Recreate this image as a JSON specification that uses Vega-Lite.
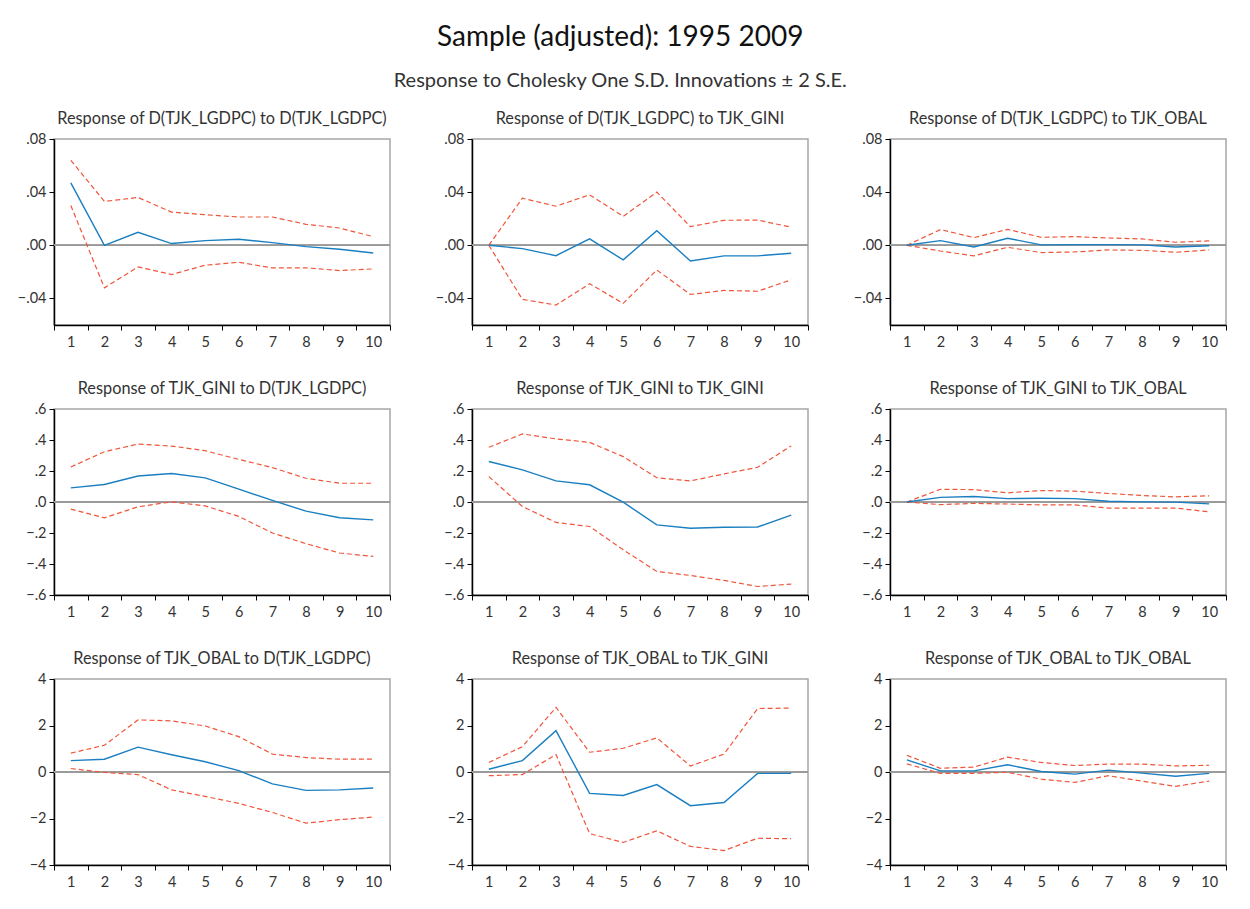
{
  "$schema": "https://vega.github.io/schema/vega-lite/v6.json",
  "background": "white",
  "padding": {"left": 13, "top": 23, "right": 10, "bottom": 10},
  "title": {
    "text": "Sample (adjusted): 1995 2009",
    "subtitle": "Response to Cholesky One S.D. Innovations ± 2 S.E.",
    "anchor": "middle",
    "font": "Lato",
    "fontSize": 28,
    "fontWeight": "normal",
    "color": "#111",
    "subtitleFont": "Lato",
    "subtitleFontSize": 20,
    "subtitleColor": "#333",
    "subtitlePadding": 19,
    "offset": 19
  },
  "datasets": {
    "irf": [
      {"p": 1, "h": 1, "r": 0.047, "lo": 0.030, "hi": 0.064},
      {"p": 1, "h": 2, "r": 0.000, "lo": -0.032, "hi": 0.033},
      {"p": 1, "h": 3, "r": 0.0098, "lo": -0.0163, "hi": 0.036},
      {"p": 1, "h": 4, "r": 0.0013, "lo": -0.022, "hi": 0.025},
      {"p": 1, "h": 5, "r": 0.0035, "lo": -0.015, "hi": 0.023},
      {"p": 1, "h": 6, "r": 0.0045, "lo": -0.0128, "hi": 0.0213},
      {"p": 1, "h": 7, "r": 0.002, "lo": -0.017, "hi": 0.0213},
      {"p": 1, "h": 8, "r": -0.001, "lo": -0.017, "hi": 0.0158},
      {"p": 1, "h": 9, "r": -0.003, "lo": -0.019, "hi": 0.013},
      {"p": 1, "h": 10, "r": -0.0058, "lo": -0.0178, "hi": 0.0065},
      {"p": 2, "h": 1, "r": 0, "lo": 0, "hi": 0},
      {"p": 2, "h": 2, "r": -0.0025, "lo": -0.0407, "hi": 0.0354},
      {"p": 2, "h": 3, "r": -0.0078, "lo": -0.045, "hi": 0.0294},
      {"p": 2, "h": 4, "r": 0.0048, "lo": -0.029, "hi": 0.038},
      {"p": 2, "h": 5, "r": -0.011, "lo": -0.0437, "hi": 0.0218},
      {"p": 2, "h": 6, "r": 0.011, "lo": -0.0186, "hi": 0.040},
      {"p": 2, "h": 7, "r": -0.0118, "lo": -0.037, "hi": 0.014},
      {"p": 2, "h": 8, "r": -0.008, "lo": -0.034, "hi": 0.0188},
      {"p": 2, "h": 9, "r": -0.008, "lo": -0.0346, "hi": 0.019},
      {"p": 2, "h": 10, "r": -0.006, "lo": -0.026, "hi": 0.0136},
      {"p": 3, "h": 1, "r": 0, "lo": 0, "hi": 0},
      {"p": 3, "h": 2, "r": 0.0035, "lo": -0.0043, "hi": 0.0118},
      {"p": 3, "h": 3, "r": -0.0013, "lo": -0.008, "hi": 0.0058},
      {"p": 3, "h": 4, "r": 0.0053, "lo": -0.0015, "hi": 0.012},
      {"p": 3, "h": 5, "r": 0.0003, "lo": -0.0055, "hi": 0.006},
      {"p": 3, "h": 6, "r": 0.0005, "lo": -0.005, "hi": 0.0065},
      {"p": 3, "h": 7, "r": 0.0005, "lo": -0.0035, "hi": 0.0055},
      {"p": 3, "h": 8, "r": 0.0003, "lo": -0.0038, "hi": 0.0048},
      {"p": 3, "h": 9, "r": -0.0013, "lo": -0.0053, "hi": 0.0023},
      {"p": 3, "h": 10, "r": -0.0003, "lo": -0.0035, "hi": 0.0033},
      {"p": 4, "h": 1, "r": 0.091, "lo": -0.046, "hi": 0.226},
      {"p": 4, "h": 2, "r": 0.113, "lo": -0.102, "hi": 0.324},
      {"p": 4, "h": 3, "r": 0.168, "lo": -0.031, "hi": 0.374},
      {"p": 4, "h": 4, "r": 0.184, "lo": 0.001, "hi": 0.361},
      {"p": 4, "h": 5, "r": 0.156, "lo": -0.025, "hi": 0.331},
      {"p": 4, "h": 6, "r": 0.083, "lo": -0.093, "hi": 0.275},
      {"p": 4, "h": 7, "r": 0.010, "lo": -0.200, "hi": 0.222},
      {"p": 4, "h": 8, "r": -0.059, "lo": -0.269, "hi": 0.153},
      {"p": 4, "h": 9, "r": -0.102, "lo": -0.329, "hi": 0.121},
      {"p": 4, "h": 10, "r": -0.115, "lo": -0.351, "hi": 0.121},
      {"p": 5, "h": 1, "r": 0.261, "lo": 0.164, "hi": 0.353},
      {"p": 5, "h": 2, "r": 0.207, "lo": -0.029, "hi": 0.439},
      {"p": 5, "h": 3, "r": 0.136, "lo": -0.132, "hi": 0.407},
      {"p": 5, "h": 4, "r": 0.111, "lo": -0.158, "hi": 0.385},
      {"p": 5, "h": 5, "r": -0.001, "lo": -0.308, "hi": 0.293},
      {"p": 5, "h": 6, "r": -0.148, "lo": -0.448, "hi": 0.157},
      {"p": 5, "h": 7, "r": -0.169, "lo": -0.474, "hi": 0.136},
      {"p": 5, "h": 8, "r": -0.163, "lo": -0.506, "hi": 0.181},
      {"p": 5, "h": 9, "r": -0.161, "lo": -0.545, "hi": 0.224},
      {"p": 5, "h": 10, "r": -0.085, "lo": -0.530, "hi": 0.362},
      {"p": 6, "h": 1, "r": 0, "lo": 0, "hi": 0},
      {"p": 6, "h": 2, "r": 0.030, "lo": -0.017, "hi": 0.082},
      {"p": 6, "h": 3, "r": 0.035, "lo": -0.009, "hi": 0.080},
      {"p": 6, "h": 4, "r": 0.022, "lo": -0.013, "hi": 0.059},
      {"p": 6, "h": 5, "r": 0.024, "lo": -0.019, "hi": 0.074},
      {"p": 6, "h": 6, "r": 0.022, "lo": -0.019, "hi": 0.070},
      {"p": 6, "h": 7, "r": 0.005, "lo": -0.039, "hi": 0.055},
      {"p": 6, "h": 8, "r": 0.001, "lo": -0.039, "hi": 0.042},
      {"p": 6, "h": 9, "r": -0.001, "lo": -0.039, "hi": 0.033},
      {"p": 6, "h": 10, "r": -0.012, "lo": -0.064, "hi": 0.040},
      {"p": 7, "h": 1, "r": 0.49, "lo": 0.15, "hi": 0.81},
      {"p": 7, "h": 2, "r": 0.55, "lo": -0.02, "hi": 1.15},
      {"p": 7, "h": 3, "r": 1.07, "lo": -0.11, "hi": 2.24},
      {"p": 7, "h": 4, "r": 0.74, "lo": -0.77, "hi": 2.20},
      {"p": 7, "h": 5, "r": 0.44, "lo": -1.05, "hi": 1.98},
      {"p": 7, "h": 6, "r": 0.06, "lo": -1.35, "hi": 1.52},
      {"p": 7, "h": 7, "r": -0.51, "lo": -1.74, "hi": 0.77},
      {"p": 7, "h": 8, "r": -0.79, "lo": -2.20, "hi": 0.62},
      {"p": 7, "h": 9, "r": -0.77, "lo": -2.05, "hi": 0.55},
      {"p": 7, "h": 10, "r": -0.69, "lo": -1.94, "hi": 0.55},
      {"p": 8, "h": 1, "r": 0.12, "lo": -0.16, "hi": 0.41},
      {"p": 8, "h": 2, "r": 0.49, "lo": -0.11, "hi": 1.09},
      {"p": 8, "h": 3, "r": 1.78, "lo": 0.75, "hi": 2.78},
      {"p": 8, "h": 4, "r": -0.92, "lo": -2.65, "hi": 0.85},
      {"p": 8, "h": 5, "r": -1.01, "lo": -3.03, "hi": 1.02},
      {"p": 8, "h": 6, "r": -0.54, "lo": -2.53, "hi": 1.47},
      {"p": 8, "h": 7, "r": -1.45, "lo": -3.20, "hi": 0.26},
      {"p": 8, "h": 8, "r": -1.31, "lo": -3.38, "hi": 0.77},
      {"p": 8, "h": 9, "r": -0.06, "lo": -2.85, "hi": 2.73},
      {"p": 8, "h": 10, "r": -0.06, "lo": -2.87, "hi": 2.75},
      {"p": 9, "h": 1, "r": 0.52, "lo": 0.35, "hi": 0.72},
      {"p": 9, "h": 2, "r": 0.05, "lo": -0.06, "hi": 0.16},
      {"p": 9, "h": 3, "r": 0.05, "lo": -0.06, "hi": 0.21},
      {"p": 9, "h": 4, "r": 0.31, "lo": -0.01, "hi": 0.64},
      {"p": 9, "h": 5, "r": 0.02, "lo": -0.31, "hi": 0.41},
      {"p": 9, "h": 6, "r": -0.09, "lo": -0.45, "hi": 0.28},
      {"p": 9, "h": 7, "r": 0.08, "lo": -0.16, "hi": 0.34},
      {"p": 9, "h": 8, "r": -0.05, "lo": -0.39, "hi": 0.34},
      {"p": 9, "h": 9, "r": -0.18, "lo": -0.62, "hi": 0.26},
      {"p": 9, "h": 10, "r": -0.06, "lo": -0.39, "hi": 0.29}
    ]
  },
  "data": {"name": "irf"},
  "spacing": 28,
  "vconcat": [
    {
      "spacing": 39,
      "hconcat": [
        {
          "title": "Response of D(TJK_LGDPC) to D(TJK_LGDPC)",
          "width": 336, "height": 186,
          "transform": [{"filter": "datum.p == 1"}],
          "layer": [
            {"mark": {"type": "rule", "color": "#9a9a9a", "strokeWidth": 1}, "encoding": {"y": {"datum": 0, "type": "quantitative", "scale": {"domain": [-0.06, 0.08], "nice": false, "zero": false}, "axis": {"values": [-0.04, 0, 0.04, 0.08], "labelOverlap": false, "labelExpr": "replace(format(datum.value, '.2f'), '0.', '.')"}}}},
            {"mark": {"type": "line", "color": "#f0553a", "strokeDash": [5, 3], "strokeWidth": 1.2}, "encoding": {"x": {"field": "h", "type": "ordinal", "scale": {"type": "band", "paddingInner": 0, "paddingOuter": 0}, "bandPosition": 0.5}, "y": {"field": "hi", "type": "quantitative", "axis": {"values": [-0.04, 0, 0.04, 0.08], "labelOverlap": false, "labelExpr": "replace(format(datum.value, '.2f'), '0.', '.')"}}}},
            {"mark": {"type": "line", "color": "#f0553a", "strokeDash": [5, 3], "strokeWidth": 1.2}, "encoding": {"x": {"field": "h", "type": "ordinal", "scale": {"type": "band", "paddingInner": 0, "paddingOuter": 0}, "bandPosition": 0.5}, "y": {"field": "lo", "type": "quantitative", "axis": {"values": [-0.04, 0, 0.04, 0.08], "labelOverlap": false, "labelExpr": "replace(format(datum.value, '.2f'), '0.', '.')"}}}},
            {"mark": {"type": "line", "color": "#1a7fc1", "strokeWidth": 1.4}, "encoding": {"x": {"field": "h", "type": "ordinal", "scale": {"type": "band", "paddingInner": 0, "paddingOuter": 0}, "bandPosition": 0.5}, "y": {"field": "r", "type": "quantitative", "axis": {"values": [-0.04, 0, 0.04, 0.08], "labelOverlap": false, "labelExpr": "replace(format(datum.value, '.2f'), '0.', '.')"}}}}
          ]
        },
        {
          "title": "Response of D(TJK_LGDPC) to TJK_GINI",
          "width": 336, "height": 186,
          "transform": [{"filter": "datum.p == 2"}],
          "layer": [
            {"mark": {"type": "rule", "color": "#9a9a9a", "strokeWidth": 1}, "encoding": {"y": {"datum": 0, "type": "quantitative", "scale": {"domain": [-0.06, 0.08], "nice": false, "zero": false}, "axis": {"values": [-0.04, 0, 0.04, 0.08], "labelOverlap": false, "labelExpr": "replace(format(datum.value, '.2f'), '0.', '.')"}}}},
            {"mark": {"type": "line", "color": "#f0553a", "strokeDash": [5, 3], "strokeWidth": 1.2}, "encoding": {"x": {"field": "h", "type": "ordinal", "scale": {"type": "band", "paddingInner": 0, "paddingOuter": 0}, "bandPosition": 0.5}, "y": {"field": "hi", "type": "quantitative", "axis": {"values": [-0.04, 0, 0.04, 0.08], "labelOverlap": false, "labelExpr": "replace(format(datum.value, '.2f'), '0.', '.')"}}}},
            {"mark": {"type": "line", "color": "#f0553a", "strokeDash": [5, 3], "strokeWidth": 1.2}, "encoding": {"x": {"field": "h", "type": "ordinal", "scale": {"type": "band", "paddingInner": 0, "paddingOuter": 0}, "bandPosition": 0.5}, "y": {"field": "lo", "type": "quantitative", "axis": {"values": [-0.04, 0, 0.04, 0.08], "labelOverlap": false, "labelExpr": "replace(format(datum.value, '.2f'), '0.', '.')"}}}},
            {"mark": {"type": "line", "color": "#1a7fc1", "strokeWidth": 1.4}, "encoding": {"x": {"field": "h", "type": "ordinal", "scale": {"type": "band", "paddingInner": 0, "paddingOuter": 0}, "bandPosition": 0.5}, "y": {"field": "r", "type": "quantitative", "axis": {"values": [-0.04, 0, 0.04, 0.08], "labelOverlap": false, "labelExpr": "replace(format(datum.value, '.2f'), '0.', '.')"}}}}
          ]
        },
        {
          "title": "Response of D(TJK_LGDPC) to TJK_OBAL",
          "width": 336, "height": 186,
          "transform": [{"filter": "datum.p == 3"}],
          "layer": [
            {"mark": {"type": "rule", "color": "#9a9a9a", "strokeWidth": 1}, "encoding": {"y": {"datum": 0, "type": "quantitative", "scale": {"domain": [-0.06, 0.08], "nice": false, "zero": false}, "axis": {"values": [-0.04, 0, 0.04, 0.08], "labelOverlap": false, "labelExpr": "replace(format(datum.value, '.2f'), '0.', '.')"}}}},
            {"mark": {"type": "line", "color": "#f0553a", "strokeDash": [5, 3], "strokeWidth": 1.2}, "encoding": {"x": {"field": "h", "type": "ordinal", "scale": {"type": "band", "paddingInner": 0, "paddingOuter": 0}, "bandPosition": 0.5}, "y": {"field": "hi", "type": "quantitative", "axis": {"values": [-0.04, 0, 0.04, 0.08], "labelOverlap": false, "labelExpr": "replace(format(datum.value, '.2f'), '0.', '.')"}}}},
            {"mark": {"type": "line", "color": "#f0553a", "strokeDash": [5, 3], "strokeWidth": 1.2}, "encoding": {"x": {"field": "h", "type": "ordinal", "scale": {"type": "band", "paddingInner": 0, "paddingOuter": 0}, "bandPosition": 0.5}, "y": {"field": "lo", "type": "quantitative", "axis": {"values": [-0.04, 0, 0.04, 0.08], "labelOverlap": false, "labelExpr": "replace(format(datum.value, '.2f'), '0.', '.')"}}}},
            {"mark": {"type": "line", "color": "#1a7fc1", "strokeWidth": 1.4}, "encoding": {"x": {"field": "h", "type": "ordinal", "scale": {"type": "band", "paddingInner": 0, "paddingOuter": 0}, "bandPosition": 0.5}, "y": {"field": "r", "type": "quantitative", "axis": {"values": [-0.04, 0, 0.04, 0.08], "labelOverlap": false, "labelExpr": "replace(format(datum.value, '.2f'), '0.', '.')"}}}}
          ]
        }
      ]
    },
    {
      "spacing": 39,
      "hconcat": [
        {
          "title": "Response of TJK_GINI to D(TJK_LGDPC)",
          "width": 336, "height": 186,
          "transform": [{"filter": "datum.p == 4"}],
          "layer": [
            {"mark": {"type": "rule", "color": "#9a9a9a", "strokeWidth": 1}, "encoding": {"y": {"datum": 0, "type": "quantitative", "scale": {"domain": [-0.6, 0.6], "nice": false, "zero": false}, "axis": {"values": [-0.6, -0.4, -0.2, 0, 0.2, 0.4, 0.6], "tickCount": 7, "labelOverlap": false, "labelExpr": "replace(format(datum.value, '.1f'), '0.', '.')"}}}},
            {"mark": {"type": "line", "color": "#f0553a", "strokeDash": [5, 3], "strokeWidth": 1.2}, "encoding": {"x": {"field": "h", "type": "ordinal", "scale": {"type": "band", "paddingInner": 0, "paddingOuter": 0}, "bandPosition": 0.5}, "y": {"field": "hi", "type": "quantitative", "axis": {"values": [-0.6, -0.4, -0.2, 0, 0.2, 0.4, 0.6], "tickCount": 7, "labelOverlap": false, "labelExpr": "replace(format(datum.value, '.1f'), '0.', '.')"}}}},
            {"mark": {"type": "line", "color": "#f0553a", "strokeDash": [5, 3], "strokeWidth": 1.2}, "encoding": {"x": {"field": "h", "type": "ordinal", "scale": {"type": "band", "paddingInner": 0, "paddingOuter": 0}, "bandPosition": 0.5}, "y": {"field": "lo", "type": "quantitative", "axis": {"values": [-0.6, -0.4, -0.2, 0, 0.2, 0.4, 0.6], "tickCount": 7, "labelOverlap": false, "labelExpr": "replace(format(datum.value, '.1f'), '0.', '.')"}}}},
            {"mark": {"type": "line", "color": "#1a7fc1", "strokeWidth": 1.4}, "encoding": {"x": {"field": "h", "type": "ordinal", "scale": {"type": "band", "paddingInner": 0, "paddingOuter": 0}, "bandPosition": 0.5}, "y": {"field": "r", "type": "quantitative", "axis": {"values": [-0.6, -0.4, -0.2, 0, 0.2, 0.4, 0.6], "tickCount": 7, "labelOverlap": false, "labelExpr": "replace(format(datum.value, '.1f'), '0.', '.')"}}}}
          ]
        },
        {
          "title": "Response of TJK_GINI to TJK_GINI",
          "width": 336, "height": 186,
          "transform": [{"filter": "datum.p == 5"}],
          "layer": [
            {"mark": {"type": "rule", "color": "#9a9a9a", "strokeWidth": 1}, "encoding": {"y": {"datum": 0, "type": "quantitative", "scale": {"domain": [-0.6, 0.6], "nice": false, "zero": false}, "axis": {"values": [-0.6, -0.4, -0.2, 0, 0.2, 0.4, 0.6], "tickCount": 7, "labelOverlap": false, "labelExpr": "replace(format(datum.value, '.1f'), '0.', '.')"}}}},
            {"mark": {"type": "line", "color": "#f0553a", "strokeDash": [5, 3], "strokeWidth": 1.2}, "encoding": {"x": {"field": "h", "type": "ordinal", "scale": {"type": "band", "paddingInner": 0, "paddingOuter": 0}, "bandPosition": 0.5}, "y": {"field": "hi", "type": "quantitative", "axis": {"values": [-0.6, -0.4, -0.2, 0, 0.2, 0.4, 0.6], "tickCount": 7, "labelOverlap": false, "labelExpr": "replace(format(datum.value, '.1f'), '0.', '.')"}}}},
            {"mark": {"type": "line", "color": "#f0553a", "strokeDash": [5, 3], "strokeWidth": 1.2}, "encoding": {"x": {"field": "h", "type": "ordinal", "scale": {"type": "band", "paddingInner": 0, "paddingOuter": 0}, "bandPosition": 0.5}, "y": {"field": "lo", "type": "quantitative", "axis": {"values": [-0.6, -0.4, -0.2, 0, 0.2, 0.4, 0.6], "tickCount": 7, "labelOverlap": false, "labelExpr": "replace(format(datum.value, '.1f'), '0.', '.')"}}}},
            {"mark": {"type": "line", "color": "#1a7fc1", "strokeWidth": 1.4}, "encoding": {"x": {"field": "h", "type": "ordinal", "scale": {"type": "band", "paddingInner": 0, "paddingOuter": 0}, "bandPosition": 0.5}, "y": {"field": "r", "type": "quantitative", "axis": {"values": [-0.6, -0.4, -0.2, 0, 0.2, 0.4, 0.6], "tickCount": 7, "labelOverlap": false, "labelExpr": "replace(format(datum.value, '.1f'), '0.', '.')"}}}}
          ]
        },
        {
          "title": "Response of TJK_GINI to TJK_OBAL",
          "width": 336, "height": 186,
          "transform": [{"filter": "datum.p == 6"}],
          "layer": [
            {"mark": {"type": "rule", "color": "#9a9a9a", "strokeWidth": 1}, "encoding": {"y": {"datum": 0, "type": "quantitative", "scale": {"domain": [-0.6, 0.6], "nice": false, "zero": false}, "axis": {"values": [-0.6, -0.4, -0.2, 0, 0.2, 0.4, 0.6], "tickCount": 7, "labelOverlap": false, "labelExpr": "replace(format(datum.value, '.1f'), '0.', '.')"}}}},
            {"mark": {"type": "line", "color": "#f0553a", "strokeDash": [5, 3], "strokeWidth": 1.2}, "encoding": {"x": {"field": "h", "type": "ordinal", "scale": {"type": "band", "paddingInner": 0, "paddingOuter": 0}, "bandPosition": 0.5}, "y": {"field": "hi", "type": "quantitative", "axis": {"values": [-0.6, -0.4, -0.2, 0, 0.2, 0.4, 0.6], "tickCount": 7, "labelOverlap": false, "labelExpr": "replace(format(datum.value, '.1f'), '0.', '.')"}}}},
            {"mark": {"type": "line", "color": "#f0553a", "strokeDash": [5, 3], "strokeWidth": 1.2}, "encoding": {"x": {"field": "h", "type": "ordinal", "scale": {"type": "band", "paddingInner": 0, "paddingOuter": 0}, "bandPosition": 0.5}, "y": {"field": "lo", "type": "quantitative", "axis": {"values": [-0.6, -0.4, -0.2, 0, 0.2, 0.4, 0.6], "tickCount": 7, "labelOverlap": false, "labelExpr": "replace(format(datum.value, '.1f'), '0.', '.')"}}}},
            {"mark": {"type": "line", "color": "#1a7fc1", "strokeWidth": 1.4}, "encoding": {"x": {"field": "h", "type": "ordinal", "scale": {"type": "band", "paddingInner": 0, "paddingOuter": 0}, "bandPosition": 0.5}, "y": {"field": "r", "type": "quantitative", "axis": {"values": [-0.6, -0.4, -0.2, 0, 0.2, 0.4, 0.6], "tickCount": 7, "labelOverlap": false, "labelExpr": "replace(format(datum.value, '.1f'), '0.', '.')"}}}}
          ]
        }
      ]
    },
    {
      "spacing": 39,
      "hconcat": [
        {
          "title": "Response of TJK_OBAL to D(TJK_LGDPC)",
          "width": 336, "height": 186,
          "transform": [{"filter": "datum.p == 7"}],
          "layer": [
            {"mark": {"type": "rule", "color": "#9a9a9a", "strokeWidth": 1}, "encoding": {"y": {"datum": 0, "type": "quantitative", "scale": {"domain": [-4, 4], "nice": false, "zero": false}, "axis": {"values": [-4, -2, 0, 2, 4], "format": "d"}}}},
            {"mark": {"type": "line", "color": "#f0553a", "strokeDash": [5, 3], "strokeWidth": 1.2}, "encoding": {"x": {"field": "h", "type": "ordinal", "scale": {"type": "band", "paddingInner": 0, "paddingOuter": 0}, "bandPosition": 0.5}, "y": {"field": "hi", "type": "quantitative", "axis": {"values": [-4, -2, 0, 2, 4], "format": "d"}}}},
            {"mark": {"type": "line", "color": "#f0553a", "strokeDash": [5, 3], "strokeWidth": 1.2}, "encoding": {"x": {"field": "h", "type": "ordinal", "scale": {"type": "band", "paddingInner": 0, "paddingOuter": 0}, "bandPosition": 0.5}, "y": {"field": "lo", "type": "quantitative", "axis": {"values": [-4, -2, 0, 2, 4], "format": "d"}}}},
            {"mark": {"type": "line", "color": "#1a7fc1", "strokeWidth": 1.4}, "encoding": {"x": {"field": "h", "type": "ordinal", "scale": {"type": "band", "paddingInner": 0, "paddingOuter": 0}, "bandPosition": 0.5}, "y": {"field": "r", "type": "quantitative", "axis": {"values": [-4, -2, 0, 2, 4], "format": "d"}}}}
          ]
        },
        {
          "title": "Response of TJK_OBAL to TJK_GINI",
          "width": 336, "height": 186,
          "transform": [{"filter": "datum.p == 8"}],
          "layer": [
            {"mark": {"type": "rule", "color": "#9a9a9a", "strokeWidth": 1}, "encoding": {"y": {"datum": 0, "type": "quantitative", "scale": {"domain": [-4, 4], "nice": false, "zero": false}, "axis": {"values": [-4, -2, 0, 2, 4], "format": "d"}}}},
            {"mark": {"type": "line", "color": "#f0553a", "strokeDash": [5, 3], "strokeWidth": 1.2}, "encoding": {"x": {"field": "h", "type": "ordinal", "scale": {"type": "band", "paddingInner": 0, "paddingOuter": 0}, "bandPosition": 0.5}, "y": {"field": "hi", "type": "quantitative", "axis": {"values": [-4, -2, 0, 2, 4], "format": "d"}}}},
            {"mark": {"type": "line", "color": "#f0553a", "strokeDash": [5, 3], "strokeWidth": 1.2}, "encoding": {"x": {"field": "h", "type": "ordinal", "scale": {"type": "band", "paddingInner": 0, "paddingOuter": 0}, "bandPosition": 0.5}, "y": {"field": "lo", "type": "quantitative", "axis": {"values": [-4, -2, 0, 2, 4], "format": "d"}}}},
            {"mark": {"type": "line", "color": "#1a7fc1", "strokeWidth": 1.4}, "encoding": {"x": {"field": "h", "type": "ordinal", "scale": {"type": "band", "paddingInner": 0, "paddingOuter": 0}, "bandPosition": 0.5}, "y": {"field": "r", "type": "quantitative", "axis": {"values": [-4, -2, 0, 2, 4], "format": "d"}}}}
          ]
        },
        {
          "title": "Response of TJK_OBAL to TJK_OBAL",
          "width": 336, "height": 186,
          "transform": [{"filter": "datum.p == 9"}],
          "layer": [
            {"mark": {"type": "rule", "color": "#9a9a9a", "strokeWidth": 1}, "encoding": {"y": {"datum": 0, "type": "quantitative", "scale": {"domain": [-4, 4], "nice": false, "zero": false}, "axis": {"values": [-4, -2, 0, 2, 4], "format": "d"}}}},
            {"mark": {"type": "line", "color": "#f0553a", "strokeDash": [5, 3], "strokeWidth": 1.2}, "encoding": {"x": {"field": "h", "type": "ordinal", "scale": {"type": "band", "paddingInner": 0, "paddingOuter": 0}, "bandPosition": 0.5}, "y": {"field": "hi", "type": "quantitative", "axis": {"values": [-4, -2, 0, 2, 4], "format": "d"}}}},
            {"mark": {"type": "line", "color": "#f0553a", "strokeDash": [5, 3], "strokeWidth": 1.2}, "encoding": {"x": {"field": "h", "type": "ordinal", "scale": {"type": "band", "paddingInner": 0, "paddingOuter": 0}, "bandPosition": 0.5}, "y": {"field": "lo", "type": "quantitative", "axis": {"values": [-4, -2, 0, 2, 4], "format": "d"}}}},
            {"mark": {"type": "line", "color": "#1a7fc1", "strokeWidth": 1.4}, "encoding": {"x": {"field": "h", "type": "ordinal", "scale": {"type": "band", "paddingInner": 0, "paddingOuter": 0}, "bandPosition": 0.5}, "y": {"field": "r", "type": "quantitative", "axis": {"values": [-4, -2, 0, 2, 4], "format": "d"}}}}
          ]
        }
      ]
    }
  ],
  "config": {
    "font": "Lato",
    "view": {"stroke": "#a6a6a6", "strokeWidth": 1.5},
    "title": {"font": "Lato", "fontSize": 16.3, "fontWeight": "normal", "color": "#333", "offset": 4, "anchor": "middle"},
    "axis": {
      "title": null,
      "grid": false,
      "domainColor": "#000",
      "domainWidth": 1.5,
      "tickColor": "#000",
      "tickSize": 5,
      "labelFont": "Lato",
      "labelFontSize": 14.5,
      "labelColor": "#333",
      "labelOverlap": false,
      "labelFlush": false
    },
    "axisX": {"labelAngle": 0, "tickBand": "extent", "labelPadding": 5, "minExtent": 25, "maxExtent": 25},
    "axisY": {"labelPadding": 3, "minExtent": 40, "maxExtent": 40}
  }
}
